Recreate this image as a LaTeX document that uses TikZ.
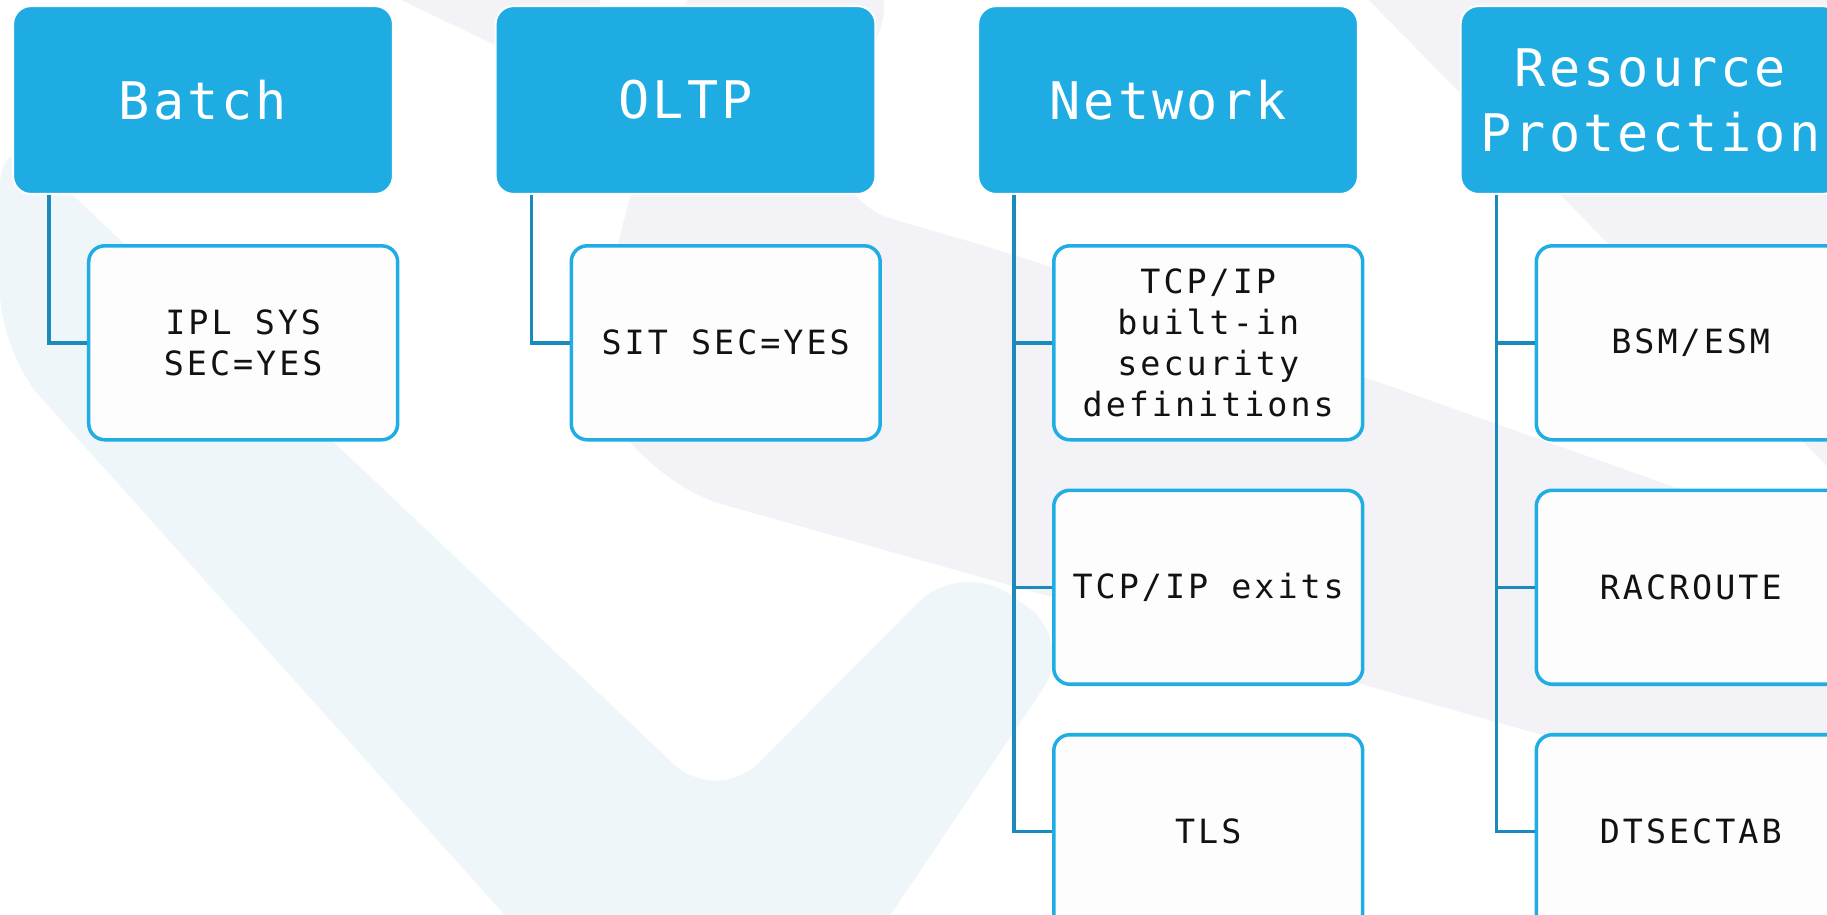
\documentclass[tikz,border=0pt]{standalone}
\usepackage{fontspec}
\setmonofont{DejaVu Sans Mono}
\usetikzlibrary{positioning}
\definecolor{HeadBlue}{HTML}{1FACE2}
\definecolor{EdgeBlue}{HTML}{1FADE3}
\definecolor{LinkBlue}{HTML}{1A8BBC}
\definecolor{LeafFill}{HTML}{FDFDFE}
\definecolor{WashBlue}{HTML}{EFF6FA}
\definecolor{WashLav}{HTML}{F2F2F7}
\newfontfamily\headfont[LetterSpace=6]{DejaVu Sans Mono}
\newfontfamily\leaffont[LetterSpace=9]{DejaVu Sans Mono}
\tikzset{
  head/.style={rounded corners=0.36cm,fill=HeadBlue,draw=white,line width=1.2pt,
    minimum width=7.6cm,minimum height=3.76cm,inner sep=2pt,align=center,
    text=white,font=\headfont\fontsize{29.5}{37}\selectfont},
  leaf/.style={rounded corners=0.32cm,fill=LeafFill,draw=EdgeBlue,line width=2pt,
    minimum width=6.18cm,minimum height=3.88cm,inner sep=2pt,align=center,
    text=black!93,font=\leaffont\fontsize{19}{23.3}\selectfont},
  link/.style={draw=LinkBlue,line width=2pt}
}
\begin{document}
\begin{tikzpicture}[x=0.02cm,y=-0.02cm,node distance=0.94cm and 2.01cm]
\useasboundingbox (0,0) rectangle (1827,915);
% faint logo wash behind the chart
\fill[WashBlue,rounded corners=1.2cm] (0,126) -- (717,805) -- (960,560) -- (1076,640) -- (860,960) -- (545,960) -- (0,352) -- cycle;
\fill[WashLav,rounded corners=1.5cm] (690,-40) -- (905,-40) -- (820,198) -- (1040,262) -- (1880,560) -- (1880,830) -- (650,484) -- (586,370) -- cycle;
\fill[WashLav] (380,-10) -- (600,-10) -- (600,95) -- cycle;
\fill[WashLav] (1349,-20) -- (1880,-20) -- (1880,520) -- cycle;

% top row
\node[head,anchor=north west] (bat) at (12,5) {Batch};
\node[head,right=of bat] (olt) {OLTP};
\node[head,right=of olt] (net) {Network};
\node[head,right=of net] (res) {Resource\\Protection};

% leaves
\node[leaf,below right=0.98cm and 1.5cm of bat.south west] (bat1) {IPL SYS\\SEC=YES};
\node[leaf,below right=0.98cm and 1.5cm of olt.south west] (olt1) {SIT SEC=YES};
\node[leaf,below right=0.98cm and 1.5cm of net.south west] (net1) {TCP/IP\\built-in\\security\\definitions};
\node[leaf,below=of net1] (net2) {TCP/IP exits};
\node[leaf,below=of net2] (net3) {TLS};
\node[leaf,below right=0.98cm and 1.5cm of res.south west] (res1) {BSM/ESM};
\node[leaf,below=of res1] (res2) {RACROUTE};
\node[leaf,below=of res2] (res3) {DTSECTAB};

% links
\draw[link] ([xshift=0.74cm]bat.south west) |- (bat1.west);
\draw[link] ([xshift=0.74cm]olt.south west) |- (olt1.west);
\foreach \p in {net,res}{
  \foreach \k in {1,2,3}
    \draw[link] ([xshift=0.74cm]\p.south west) |- (\p\k.west);
}
\end{tikzpicture}
\end{document}
